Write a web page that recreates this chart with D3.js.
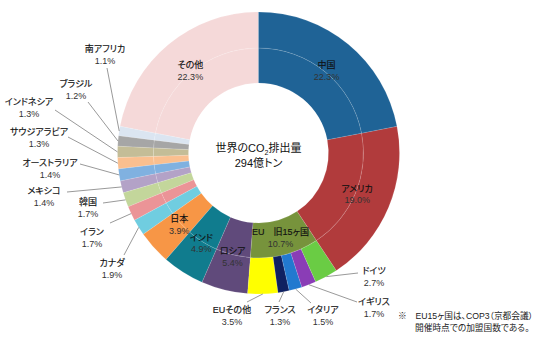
<!DOCTYPE html>
<html><head><meta charset="utf-8">
<script src="https://cdn.jsdelivr.net/npm/d3@7/dist/d3.min.js"></script>
<style>
body{margin:0;background:#fff}
text{font-family:"Liberation Sans","Noto Sans CJK JP",sans-serif;font-feature-settings:"palt" 1;}
</style>
</head><body><svg id="c" width="550" height="340"></svg>
<script>
// ---- data ----
const outerCategories = ["中国","アメリカ","ドイツ","イギリス","イタリア","フランス","EUその他","ロシア","インド","日本","カナダ","イラン","韓国","メキシコ","オーストラリア","サウジアラビア","インドネシア","ブラジル","南アフリカ","その他"];
const outerValues = [22.3,19.0,2.7,1.7,1.5,1.3,3.5,5.4,4.9,3.9,1.9,1.7,1.7,1.4,1.4,1.3,1.3,1.2,1.1,22.3];
const innerCategories = ["中国","アメリカ","EU\u3000旧15ヶ国","ロシア","インド","日本","カナダ","イラン","韓国","メキシコ","オーストラリア","サウジアラビア","インドネシア","ブラジル","南アフリカ","その他"];
const innerValues = [22.3,19.0,10.7,5.4,4.9,3.9,1.9,1.7,1.7,1.4,1.4,1.3,1.3,1.2,1.1,22.3];
const centerTitle = ["世界のCO","2","排出量"];
const centerTotal = "294億トン";
const footnoteLines = ["※\u3000EU15ヶ国は、COP3（京都会議）","開催時点での加盟国数である。"];

// ---- styles / layout ----
const palette = {
  "中国":"#1f6396","アメリカ":"#b13b3c","EU\u3000旧15ヶ国":"#77933c",
  "ドイツ":"#6acc44","イギリス":"#8a3db6","イタリア":"#2279cf","フランス":"#0f2161","EUその他":"#ffff00",
  "ロシア":"#604a7b","インド":"#107c8e","日本":"#f79646","カナダ":"#70cde0","イラン":"#eb9497",
  "韓国":"#c3d69b","メキシコ":"#b3a2c7","オーストラリア":"#80b1e0","サウジアラビア":"#fabf8f",
  "インドネシア":"#c4bd97","ブラジル":"#a6a6a6","南アフリカ":"#dbe5f1","その他":"#f5d9d9"
};
const insideOuter = ["中国","アメリカ","ロシア","インド","日本","その他"];
const insideInner = ["EU\u3000旧15ヶ国"];
// leader-line label layout: line end (ex,ey), label centre (lx,ly)
const calloutLayout = {
  "ドイツ":{ex:358,ey:273,lx:374,ly:271},
  "イギリス":{ex:357,ey:302,lx:374,ly:302},
  "イタリア":{ex:311,ey:303,lx:323,ly:310},
  "フランス":{ex:279,ey:302,lx:280,ly:310},
  "EUその他":{ex:247,ey:302,lx:232,ly:310},
  "カナダ":{ex:124,ey:255,lx:112,ly:263},
  "イラン":{ex:110,ey:223,lx:92,ly:232},
  "韓国":{ex:103,ey:203,lx:88,ly:202},
  "メキシコ":{ex:67,ey:192,lx:44,ly:191},
  "オーストラリア":{ex:80,ey:164,lx:50,ly:163},
  "サウジアラビア":{ex:68,ey:137,lx:39,ly:132},
  "インドネシア":{ex:55,ey:110,lx:29,ly:102},
  "ブラジル":{ex:88,ey:102,lx:76,ly:84},
  "南アフリカ":{ex:107,ey:68,lx:105,ly:49}
};
const cx=258.5, cy=153, r0=70, r1=105, r2=141;
const fmt = v => d3.format(".1f")(v)+"%";

const svg = d3.select("#c");
const g = svg.append("g").attr("transform",`translate(${cx},${cy})`);

// each percentage point = 3.6 degrees
const pieFor = values => d3.pie().sort(null).value(d=>d.v)
  .startAngle(0).endAngle(2*Math.PI*d3.sum(values)/100);

const outerData = pieFor(outerValues)(outerCategories.map((c,i)=>({c,v:outerValues[i]})));
const innerData = pieFor(innerValues)(innerCategories.map((c,i)=>({c,v:innerValues[i]})));
const clampArc = d => ({...d, endAngle:Math.min(d.endAngle,2*Math.PI)});

const arcInner = d3.arc().innerRadius(r0).outerRadius(r1);
const arcOuter = d3.arc().innerRadius(r1).outerRadius(r2);

g.append("g").selectAll("path").data(innerData.slice().reverse()).join("path")
  .attr("d",arcInner).attr("fill",d=>palette[d.data.c])
  .attr("stroke","#fff").attr("stroke-width",0.4).attr("stroke-opacity",0.3);
g.append("g").selectAll("path").data(outerData.slice().reverse()).join("path")
  .attr("d",arcOuter).attr("fill",d=>palette[d.data.c])
  .attr("stroke","#fff").attr("stroke-width",0.4).attr("stroke-opacity",0.3);

// inside labels
function twoLine(sel, x, y, name, pct){
  const t = sel.append("g");
  t.append("text").attr("x",x).attr("y",y+3.2).attr("text-anchor","middle")
    .attr("font-size",9).attr("fill","#111").attr("stroke","#111").attr("stroke-width",0.15).text(name);
  t.append("text").attr("x",x).attr("y",y+15).attr("text-anchor","middle")
    .attr("font-size",9).attr("fill","#333").text(pct);
}
const labelArc = d3.arc().innerRadius(107).outerRadius(107);
const labelArcInner = d3.arc().innerRadius(87.5).outerRadius(87.5);
outerData.filter(d=>insideOuter.includes(d.data.c)).forEach(d=>{
  const [x,y] = labelArc.centroid(clampArc(d));
  twoLine(g, x, y-6, d.data.c, fmt(d.data.v));
});
innerData.filter(d=>insideInner.includes(d.data.c)).forEach(d=>{
  const [x,y] = labelArcInner.centroid(d);
  twoLine(g, x, y-6, d.data.c, fmt(d.data.v));
});

// callouts
const edgeArc = d3.arc().innerRadius(r2).outerRadius(r2);
const callG = svg.append("g");
outerData.filter(d=>calloutLayout[d.data.c]).forEach(d=>{
  const L = calloutLayout[d.data.c];
  const [px,py] = edgeArc.centroid(d);
  callG.append("line").attr("x1",px+cx).attr("y1",py+cy).attr("x2",L.ex).attr("y2",L.ey)
    .attr("stroke","#7f7f7f").attr("stroke-width",0.8);
  twoLine(callG, L.lx, L.ly, d.data.c, fmt(d.data.v));
});

// centre text
const ct = svg.append("text").attr("x",cx).attr("y",152).attr("text-anchor","middle")
  .attr("font-size",11).attr("fill","#111");
ct.append("tspan").text(centerTitle[0]);
ct.append("tspan").attr("font-size",7).attr("dy",3).text(centerTitle[1]);
ct.append("tspan").attr("dy",-3).text(centerTitle[2]);
svg.append("text").attr("x",cx).attr("y",167).attr("text-anchor","middle")
  .attr("font-size",11).attr("fill","#111").text(centerTotal);

// footnote
svg.append("text").attr("x",398).attr("y",318.5).attr("font-size",8.7).attr("fill","#222").text(footnoteLines[0]);
svg.append("text").attr("x",415).attr("y",330.5).attr("font-size",8.7).attr("fill","#222").text(footnoteLines[1]);
</script>
</body></html>
